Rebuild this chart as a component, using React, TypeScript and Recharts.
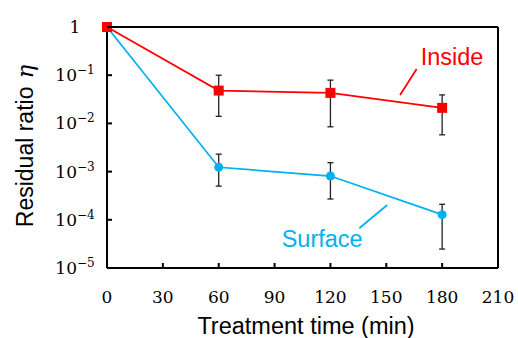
import React from "react";
import {
  LineChart,
  Line,
  XAxis,
  YAxis,
  ErrorBar,
  ReferenceLine,
  ReferenceDot,
} from "recharts";

const times = [0, 60, 120, 180];
const inside = [1, 0.048, 0.043, 0.021];
const insideLow = [null, 0.014, 0.0085, 0.0058];
const insideHigh = [null, 0.1, 0.079, 0.039];
const surface = [1, 0.00123, 0.00081, 0.000128];
const surfaceLow = [null, 0.0005, 0.00027, 0.0000247];
const surfaceHigh = [null, 0.0023, 0.00153, 0.00021];

const xTicks = [0, 30, 60, 90, 120, 150, 180, 210];
const yTicks = [1, 1e-1, 1e-2, 1e-3, 1e-4, 1e-5];

const RED = "#FF0000";
const BLUE = "#00B0F0";
const SANS = "'Liberation Sans', Arial, sans-serif";
const SERIF = "'DejaVu Serif', serif";

const errOf = (v: number, lo: number | null, hi: number | null) =>
  lo == null || hi == null ? null : [v - lo, hi - v];

const data = times.map((t, i) => ({
  t,
  inside: inside[i],
  insideErr: errOf(inside[i], insideLow[i], insideHigh[i]),
  surface: surface[i],
  surfaceErr: errOf(surface[i], surfaceLow[i], surfaceHigh[i]),
}));

const XTick = (props: any) => {
  const { x, y, payload } = props;
  return (
    <g>
      <line x1={x} x2={x} y1={y} y2={y - 5} stroke="#000" strokeWidth={2} />
      <text x={x} y={y + 35} textAnchor="middle" fontFamily={SERIF} fontSize={17} fill="#000">
        {payload.value}
      </text>
    </g>
  );
};

const YTick = (props: any) => {
  const { x, y, payload } = props;
  const exp = Math.round(Math.log10(payload.value));
  return (
    <g>
      <line x1={x} x2={x + 5} y1={y} y2={y} stroke="#000" strokeWidth={2} />
      <text x={x - 32} y={y + 6} textAnchor="middle" fontFamily={SERIF} fontSize={17} fill="#000">
        {exp === 0 ? (
          "1"
        ) : (
          <>
            10
            <tspan fontSize={12} dy={-7}>
              {"\u2212" + Math.abs(exp)}
            </tspan>
          </>
        )}
      </text>
    </g>
  );
};

const SquareDot = (props: any) => {
  const { cx, cy, index } = props;
  return <rect key={`sq-${index}`} x={cx - 5} y={cy - 5} width={10} height={10} fill={RED} />;
};

const App = () => (
  <div style={{ position: "absolute", left: 0, top: 0 }}>
    <LineChart width={518} height={338} data={data} margin={{ top: 27, right: 20, left: 0, bottom: 0 }}>
      <XAxis
        dataKey="t"
        type="number"
        domain={[0, 210]}
        ticks={xTicks}
        height={70}
        tickSize={0}
        tickMargin={0}
        tickLine={false}
        axisLine={{ stroke: "#000", strokeWidth: 2 }}
        tick={<XTick />}
        interval={0}
      />
      <YAxis
        type="number"
        scale="log"
        domain={[1e-5, 1]}
        ticks={yTicks}
        width={107}
        tickSize={0}
        tickMargin={0}
        tickLine={false}
        axisLine={{ stroke: "#000", strokeWidth: 2 }}
        tick={<YTick />}
        interval={0}
      />
      <ReferenceLine y={1} stroke="#000" strokeWidth={2} />
      <ReferenceLine x={210} stroke="#000" strokeWidth={2} />
      <ReferenceLine
        segment={[{ x: 166.3, y: 0.135 }, { x: 157.4, y: 0.039 }]}
        stroke={RED}
        strokeWidth={1.75}
      />
      <ReferenceLine
        segment={[{ x: 150.5, y: 2.03e-4 }, { x: 135.5, y: 6.67e-5 }]}
        stroke={BLUE}
        strokeWidth={1.75}
      />
      <ReferenceDot
        x={168.5}
        y={0.163}
        r={0}
        shape={(p: any) => (
          <text x={p.cx} y={p.cy} fontFamily={SANS} fontSize={23.5} fill={RED}>
            Inside
          </text>
        )}
      />
      <ReferenceDot
        x={93.8}
        y={2.77e-5}
        r={0}
        shape={(p: any) => (
          <text x={p.cx} y={p.cy} fontFamily={SANS} fontSize={23.5} fill={BLUE}>
            Surface
          </text>
        )}
      />
      <Line
        dataKey="surface"
        stroke={BLUE}
        strokeWidth={1.75}
        dot={{ r: 4.5, fill: BLUE, stroke: BLUE, strokeWidth: 0 }}
        isAnimationActive={false}
      >
        <ErrorBar dataKey="surfaceErr" direction="y" width={3} stroke="#222" strokeWidth={1.3} />
      </Line>
      <Line
        dataKey="inside"
        stroke={RED}
        strokeWidth={1.75}
        dot={<SquareDot />}
        isAnimationActive={false}
      >
        <ErrorBar dataKey="insideErr" direction="y" width={3} stroke="#222" strokeWidth={1.3} />
      </Line>
      <text
        x={33}
        y={146}
        transform="rotate(-90 33 146)"
        textAnchor="middle"
        fontFamily={SANS}
        fontSize={23}
        fill="#000"
      >
        Residual ratio
        <tspan dx={8} fontFamily={SERIF} fontStyle="italic">
          η
        </tspan>
      </text>
      <text x={306} y={334} textAnchor="middle" fontFamily={SANS} fontSize={23.5} fill="#000">
        Treatment time (min)
      </text>
    </LineChart>
  </div>
);

export default App;
